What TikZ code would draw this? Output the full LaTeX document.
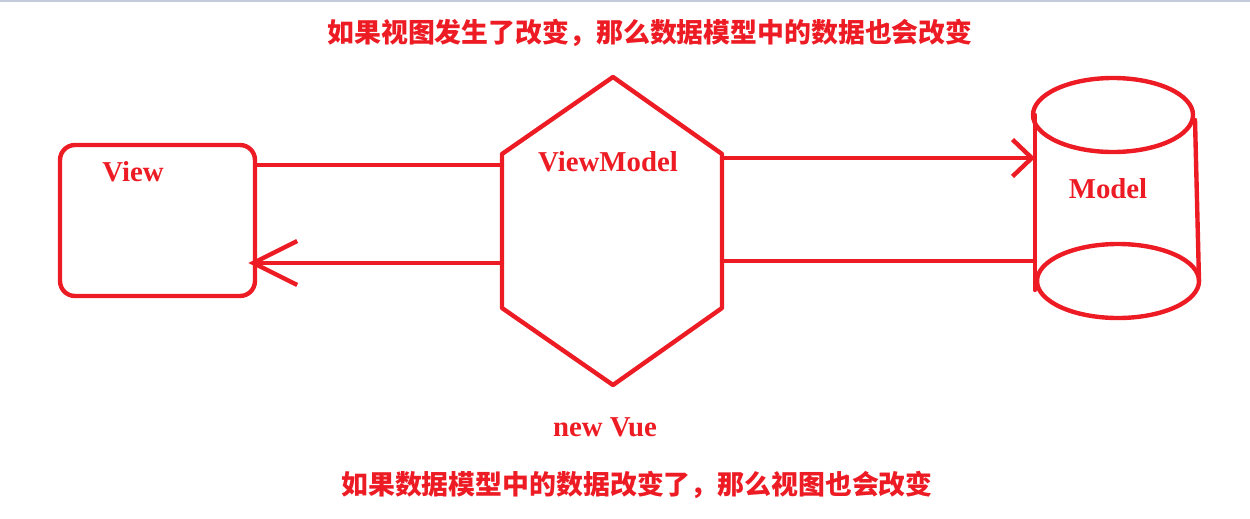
\documentclass[tikz,border=0pt]{standalone}
\usepackage{fontspec}
\setmainfont{Liberation Serif}
\newfontfamily\cjk{Noto Sans CJK SC}
\usetikzlibrary{arrows.meta}
\definecolor{pen}{HTML}{ED1C24}
\definecolor{barblue}{HTML}{C3CBDD}

\begin{document}
\begin{tikzpicture}[x=0.02cm, y=-0.02cm, line width=2.5pt, line cap=round, line join=round,
  lbl/.style={text=pen, font=\fontsize{16.4}{18}\selectfont\bfseries, inner sep=0pt},
  note/.style={text=pen, font=\cjk\fontsize{15.3}{17}\selectfont\bfseries, inner sep=0pt},
  viewbox/.style={draw=pen, rounded corners=8.5pt, minimum width=3.9cm, minimum height=3.02cm, inner sep=0pt}]
  \useasboundingbox (0,0) rectangle (1250,518);
  \fill[barblue] (0,0) rectangle (1250,2);
  % view
  \node[viewbox] (view) at (157.5,220.5) {};
  \node[lbl] (viewtxt) at (133,172) {View};
  % viewmodel
  \draw[pen] (613,77) -- (722,154) -- (722,308) -- (613,385) -- (502,308) -- (502,154) -- cycle;
  \coordinate (vmW) at (502,231);
  \coordinate (vmE) at (722,231);
  \node[lbl] (vmtxt) at (608,162) {ViewModel};
  \node[lbl] (vue) at (605,427) {new Vue};
  % model
  \draw[pen] (1113,115) ellipse [x radius=80, y radius=37];
  \draw[pen] (1118,281) ellipse [x radius=81, y radius=37];
  \draw[pen] (1035,115) -- (1035,290);
  \draw[pen] (1195,120) -- (1199,281);
  \coordinate (mdW) at (1035,200);
  \node[lbl] (mdtxt) at (1108,189) {Model};
  % links
  \coordinate (up) at (0,165);
  \coordinate (dn) at (0,263);
  \coordinate (up2) at (0,158);
  \coordinate (dn2) at (0,261);
  \draw[pen] (view.east |- up) -- (vmW |- up);
  \draw[pen, -{Straight Barb[length=25pt, width=25pt]}] (vmW |- dn) -- ([xshift=-5pt]view.east |- dn);
  \draw[pen, -{Straight Barb[length=11pt, width=21pt]}] (vmE |- up2) -- (mdW |- up2);
  \draw[pen] (vmE |- dn2) -- (mdW |- dn2);
  % notes
  \node[note] (top) at (650,33) {如果视图发生了改变，那么数据模型中的数据也会改变};
  \node[note] (bot) at (637,485) {如果数据模型中的数据改变了，那么视图也会改变};
\end{tikzpicture}
\end{document}
